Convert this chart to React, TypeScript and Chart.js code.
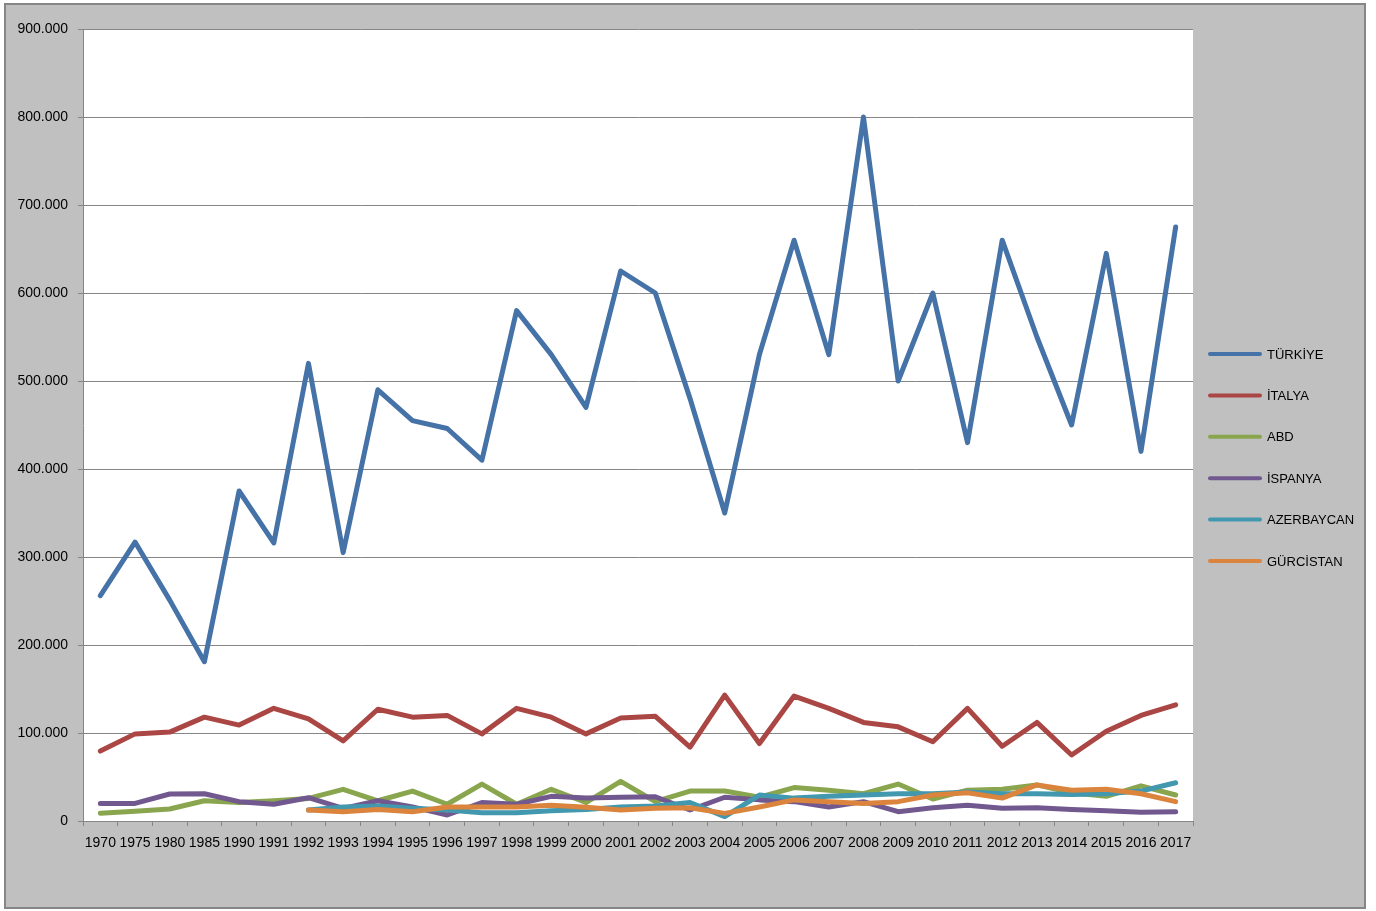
import React, { useEffect, useRef } from "react";
import { Chart, registerables } from "chart.js";

Chart.register(...registerables);

const categories = [
  "1970", "1975", "1980", "1985", "1990", "1991", "1992", "1993", "1994", "1995", "1996",
  "1997", "1998", "1999", "2000", "2001", "2002", "2003", "2004", "2005", "2006", "2007",
  "2008", "2009", "2010", "2011", "2012", "2013", "2014", "2015", "2016", "2017",
];

const seriesNames = ["TÜRKİYE", "İTALYA", "ABD", "İSPANYA", "AZERBAYCAN", "GÜRCİSTAN"];
const seriesColors = ["#4572A7", "#AA4643", "#89A54E", "#71588F", "#4198AF", "#DB843D"];

const turkiye = [
  256000, 317000, 251000, 181000, 375000, 316000, 520000, 305000, 490000, 455000, 446000,
  410000, 580000, 530000, 470000, 625000, 600000, 480000, 350000, 530000, 660000, 530000,
  800000, 500000, 600000, 430000, 660000, 550000, 450000, 645000, 420000, 675000,
];
const italya = [
  79500, 99000, 101000, 118000, 109000, 128000, 116000, 91000, 127000, 118000, 120000,
  99000, 128000, 118000, 99000, 117000, 119000, 84000, 143000, 88000, 142000, 128000,
  112000, 107000, 90000, 128000, 85000, 112000, 75000, 102000, 120000, 132000,
];
const abd = [
  8700, 11000, 13600, 23000, 21000, 23000, 25700, 36000, 23000, 34000, 19000,
  42000, 19000, 36000, 21000, 45000, 22000, 34000, 34000, 27000, 38000, 35000,
  31000, 42000, 25000, 35000, 36000, 41000, 32000, 28000, 40000, 29500,
];
const ispanya = [
  20000, 20000, 30700, 31000, 22000, 19000, 26500, 14400, 23000, 16000, 6800,
  21000, 19000, 28000, 26000, 27000, 27600, 12500, 27000, 24000, 22000, 16000,
  22000, 10600, 15000, 18000, 14400, 15000, 13000, 11700, 10000, 10600,
];
const azerbaycan = [
  null, null, null, null, null, null, 12500, 16000, 17000, 14400, 12500,
  9500, 9500, 11700, 13000, 16000, 17000, 21000, 5000, 29500, 26000, 28000,
  29500, 31000, 31000, 33000, 31000, 31000, 30000, 31000, 34000, 43500,
];
const gurcistan = [
  null, null, null, null, null, null, 12500, 10600, 13000, 10600, 16000,
  16000, 16000, 18000, 15500, 12500, 14400, 15000, 8700, 16000, 24000, 22000,
  20000, 22000, 29500, 32000, 26000, 41000, 35000, 36000, 31000, 22000,
];

const seriesValues = [turkiye, italya, abd, ispanya, azerbaycan, gurcistan];

const yMax = 900000;
const yStep = 100000;

const FONT = "'Liberation Sans', Arial, sans-serif";
const GRID = "#868686";

function fmt(v: number) {
  return String(v).replace(/\B(?=(\d{3})+(?!\d))/g, ".");
}

const plotBg = {
  id: "plotBg",
  beforeDraw(chart: any) {
    const { ctx, chartArea } = chart;
    ctx.save();
    ctx.fillStyle = "#ffffff";
    ctx.fillRect(chartArea.left, chartArea.top, chartArea.right - chartArea.left, chartArea.bottom - chartArea.top);
    ctx.restore();
  },
};

const sideLegend = {
  id: "sideLegend",
  afterDraw(chart: any) {
    const { ctx, chartArea } = chart;
    const ds = chart.data.datasets;
    const x0 = chartArea.right + 15;
    const lineLen = 54;
    const spacing = 41.4;
    const startY = chartArea.top + 325;
    ctx.save();
    ctx.font = `13px ${FONT}`;
    ctx.textBaseline = "middle";
    ctx.textAlign = "left";
    ds.forEach((d: any, i: number) => {
      const y = startY + i * spacing;
      ctx.strokeStyle = d.borderColor;
      ctx.lineWidth = 4;
      ctx.lineCap = "round";
      ctx.beginPath();
      ctx.moveTo(x0 + 2, y);
      ctx.lineTo(x0 + lineLen - 2, y);
      ctx.stroke();
      ctx.fillStyle = "#000000";
      ctx.fillText(d.label, x0 + lineLen + 5, y + 1);
    });
    ctx.restore();
  },
};

export default function App() {
  const ref = useRef<HTMLCanvasElement | null>(null);

  useEffect(() => {
    if (!ref.current) return;
    const chart = new Chart(ref.current, {
      type: "line",
      data: {
        labels: categories,
        datasets: seriesNames.map((name, i) => ({
          label: name,
          data: seriesValues[i],
          borderColor: seriesColors[i],
          backgroundColor: seriesColors[i],
          borderWidth: 5,
          pointRadius: 0,
          pointHoverRadius: 0,
          tension: 0,
          fill: false,
          borderJoinStyle: "round",
          borderCapStyle: "round",
          order: seriesNames.length - i,
        })),
      },
      options: {
        animation: false,
        responsive: false,
        devicePixelRatio: 1,
        layout: { padding: { top: 24, left: 0, right: 171, bottom: 56 } },
        plugins: {
          legend: { display: false },
          tooltip: { enabled: false },
          title: { display: false },
        },
        scales: {
          x: {
            type: "category",
            offset: true,
            grid: {
              offset: true,
              drawOnChartArea: false,
              drawTicks: true,
              tickLength: 5,
              color: GRID,
            },
            border: { display: true, color: GRID, width: 1 },
            ticks: {
              autoSkip: false,
              maxRotation: 0,
              minRotation: 0,
              padding: 9,
              color: "#000000",
              font: { family: FONT, size: 14 },
            },
            afterFit: (scale: any) => {
              scale.height = 30;
            },
          },
          y: {
            min: 0,
            max: yMax,
            grid: {
              drawOnChartArea: true,
              drawTicks: true,
              tickLength: 5,
              color: GRID,
            },
            border: { display: true, color: GRID, width: 1 },
            ticks: {
              stepSize: yStep,
              padding: 10,
              color: "#000000",
              font: { family: FONT, size: 14 },
              callback: (v: any) => fmt(Number(v)),
            },
            afterFit: (scale: any) => {
              scale.width = 77;
            },
          },
        },
      },
      plugins: [plotBg, sideLegend],
    } as any);
    return () => chart.destroy();
  }, []);

  return (
    <div
      style={{
        position: "absolute",
        left: 4,
        top: 3,
        width: 1362,
        height: 906,
        boxSizing: "border-box",
        border: "2px solid #868686",
        background: "#c0c0c0",
      }}
    >
      <canvas ref={ref} width={1358} height={902} style={{ display: "block", width: 1358, height: 902 }} />
    </div>
  );
}
